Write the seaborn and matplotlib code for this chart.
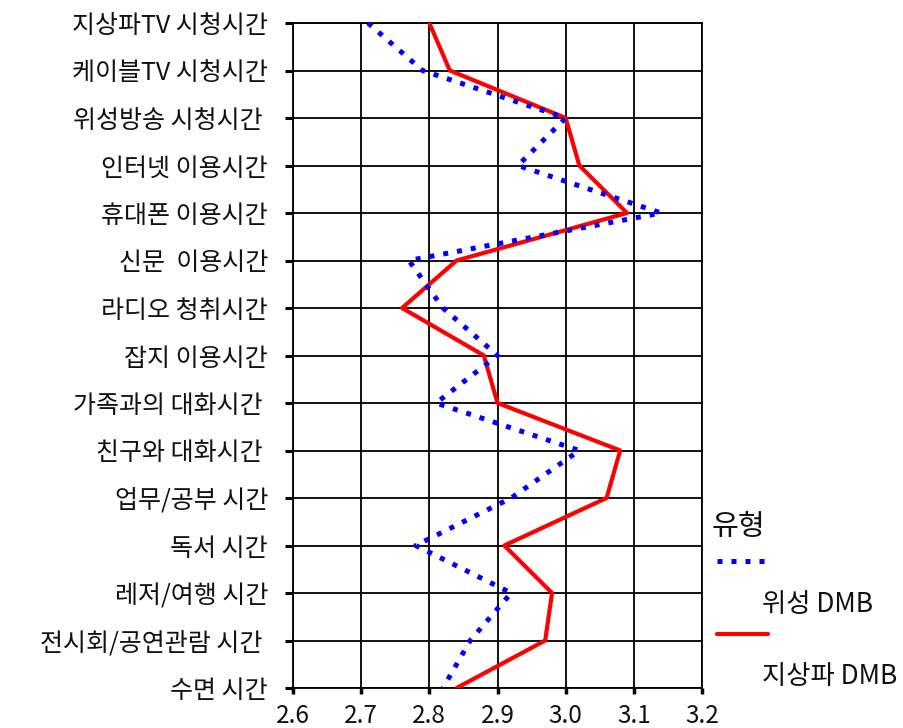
import numpy as np
import pandas as pd
import matplotlib
matplotlib.use("Agg")
import matplotlib.pyplot as plt
from matplotlib.lines import Line2D
import seaborn as sns

# Activity items, top to bottom
categories = [
    "지상파TV 시청시간", "케이블TV 시청시간", "위성방송 시청시간 ", "인터넷 이용시간",
    "휴대폰 이용시간", "신문  이용시간", "라디오 청취시간", "잡지 이용시간",
    "가족과의 대화시간 ", "친구와 대화시간 ", "업무/공부 시간", "독서 시간",
    "레저/여행 시간", "전시회/공연관람 시간 ", "수면 시간",
]
satellite_dmb = [2.71, 2.79, 3.00, 2.93, 3.14, 2.77, 2.82, 2.90,
                 2.81, 3.02, 2.92, 2.78, 2.92, 2.86, 2.82]
terrestrial_dmb = [2.80, 2.83, 3.00, 3.02, 3.09, 2.84, 2.76, 2.88,
                   2.90, 3.08, 3.06, 2.91, 2.98, 2.97, 2.84]
series_names = ["위성 DMB", "지상파 DMB"]
x_ticks = [2.6, 2.7, 2.8, 2.9, 3.0, 3.1, 3.2]
x_tick_labels = ["2.6", "2.7", "2.8", "2.9", "3.0", "3.1", "3.2"]
legend_title = "유형"

sns.set_style("white")
plt.rcParams["font.family"] = ["Noto Sans CJK KR", "DejaVu Sans"]

pos = np.arange(len(categories))
df = pd.DataFrame({
    "항목": categories * 2,
    "pos": np.concatenate([pos, pos]),
    "값": satellite_dmb + terrestrial_dmb,
    "유형": [series_names[0]] * len(categories) + [series_names[1]] * len(categories),
})

fig = plt.figure(figsize=(9.04, 7.28), dpi=100)
ax = fig.add_axes([293 / 904, 40 / 728, 409 / 904, 665 / 728])

sat = df[df["유형"] == series_names[0]]
ter = df[df["유형"] == series_names[1]]

sns.lineplot(data=ter, x="값", y="pos", sort=False, estimator=None,
             color="#ff0000", linewidth=3.0, ax=ax, zorder=3)
sns.lineplot(data=sat, x="값", y="pos", sort=False, estimator=None,
             color="#0000ff", linewidth=3.6, linestyle=(0, (1, 1.8)),
             ax=ax, zorder=4)

ax.set_xlim(2.6, 3.2)
ax.set_ylim(len(categories) - 1, 0)
ax.set_xticks(x_ticks)
ax.set_xticklabels(x_tick_labels, fontsize=17.5)
ax.set_yticks(pos)
ax.set_yticklabels(categories, fontsize=18)
ax.set_xlabel("")
ax.set_ylabel("")

ax.grid(True, color="black", linewidth=1.3)
ax.set_axisbelow(True)
for s in ax.spines.values():
    s.set_color("black")
    s.set_linewidth(1.3)

ax.tick_params(axis="y", direction="out", length=6, width=2.2, color="black",
               pad=12, left=True, labelcolor="#111111")
ax.tick_params(axis="x", direction="out", length=4, width=2.5, color="black",
               pad=7, bottom=True, labelcolor="#111111")

# Legend drawn beside the plot: title, then each line sample with its name below
fig.text(712 / 904, 1 - 527 / 728, legend_title, fontsize=21,
         ha="left", va="center", color="#111111")
fig.add_artist(Line2D([717 / 904, 771 / 904], [1 - 561 / 728, 1 - 561 / 728],
                      transform=fig.transFigure, color="#0000ff",
                      linewidth=3.6, linestyle=(0, (1, 1.8))))
fig.text(762 / 904, 1 - 605 / 728, series_names[0], fontsize=19,
         ha="left", va="center", color="#111111")
fig.add_artist(Line2D([717 / 904, 768 / 904], [1 - 634 / 728, 1 - 634 / 728],
                      transform=fig.transFigure, color="#ff0000", linewidth=3.0))
fig.text(762 / 904, 1 - 677 / 728, series_names[1], fontsize=19,
         ha="left", va="center", color="#111111")

fig.savefig("out.png", dpi=100, facecolor="white")
